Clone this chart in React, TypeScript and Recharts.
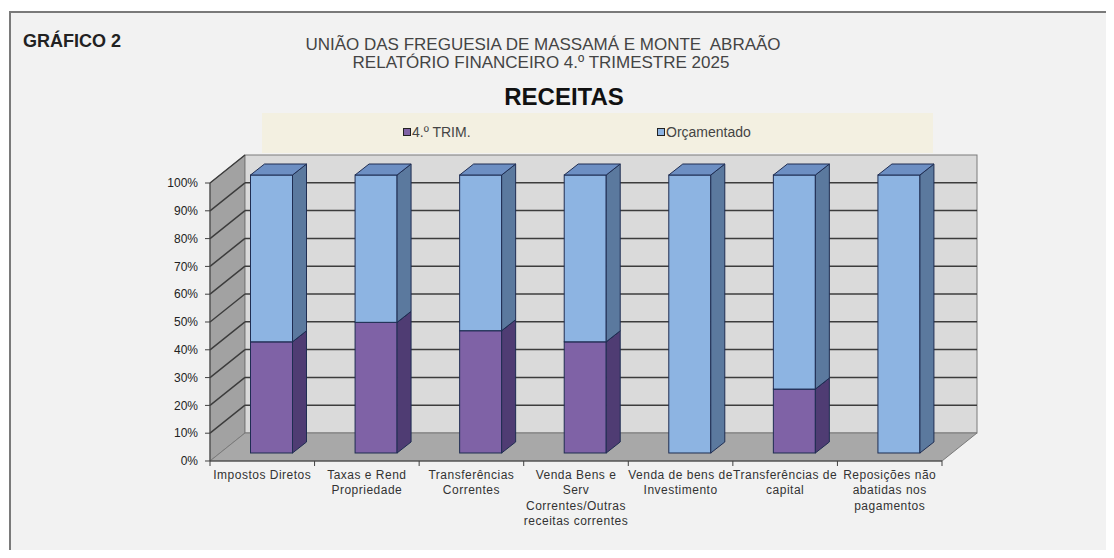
import { BarChart, Bar, XAxis, YAxis, ReferenceArea } from "recharts";

const categories = [
  "Impostos Diretos",
  "Taxas e Rend\nPropriedade",
  "Transferências\nCorrentes",
  "Venda Bens e\nServ\nCorrentes/Outras\nreceitas correntes",
  "Venda de bens de\nInvestimento",
  "Transferências de\ncapital",
  "Reposições não\nabatidas nos\npagamentos",
];
const trim4 = [40, 47, 44, 40, 0, 23, 0];
const orcamentado = [60, 53, 56, 60, 100, 77, 100];
const yTicks = [0, 10, 20, 30, 40, 50, 60, 70, 80, 90, 100];

const data = categories.map((name, i) => ({ name, trim: trim4[i], orc: orcamentado[i] }));

// depth of the 3D walls and of the bars
const WX = 35;
const WY = 28;
const BX = 9.5;
const BY = 8;
const DX = 14;
const DY = 11;

const FONT = '"Liberation Sans", Arial, sans-serif';

function Walls(props: any) {
  const { x, y, width: w, height: h } = props;
  if (x == null) return null;
  const bx = x + WX;
  const by = y - WY;
  const grid = "#3c3c3c";
  return (
    <g>
      <polygon points={`${x},${y} ${bx},${by} ${bx},${by + h} ${x},${y + h}`} fill="#a2a2a2" stroke="#7a7a7a" />
      <rect x={bx} y={by} width={w} height={h} fill="#dadada" stroke="#7a7a7a" />
      <polygon
        points={`${x},${y + h} ${bx},${by + h} ${bx + w},${by + h} ${x + w},${y + h}`}
        fill="#a8a8a8"
        stroke="#7a7a7a"
      />
      {yTicks.slice(1).map((v) => {
        const yy = y + h * (1 - v / 100);
        return (
          <g key={v}>
            <line x1={x} y1={yy} x2={bx} y2={yy - WY} stroke={grid} strokeWidth={1.5} />
            {v < 100 && <line x1={bx} y1={yy - WY} x2={bx + w} y2={yy - WY} stroke={grid} strokeWidth={1.5} />}
          </g>
        );
      })}
      {categories.concat([""]).map((_, j) => {
        const xx = x + (w * j) / categories.length;
        return <line key={j} x1={xx} y1={y + h} x2={xx} y2={y + h + 5} stroke="#404040" />;
      })}
    </g>
  );
}

function makeBar3D(front: string, side: string, top: string) {
  return (props: any) => {
    const { x, y, width: w, height: h } = props;
    if (!h || h <= 0) return <g />;
    const ox = x + BX;
    const oy = y - BY;
    const stroke = "#1f2d52";
    return (
      <g>
        <rect x={ox} y={oy} width={w} height={h} fill={front} stroke={stroke} />
        <polygon
          points={`${ox + w},${oy} ${ox + w + DX},${oy - DY} ${ox + w + DX},${oy + h - DY} ${ox + w},${oy + h}`}
          fill={side}
          stroke={stroke}
        />
        <polygon
          points={`${ox},${oy} ${ox + DX},${oy - DY} ${ox + w + DX},${oy - DY} ${ox + w},${oy}`}
          fill={top}
          stroke={stroke}
        />
      </g>
    );
  };
}

const PurpleBar = makeBar3D("#7f62a6", "#4f3c73", "#6a5191");
const BlueBar = makeBar3D("#8db4e2", "#5b799e", "#6d8fc3");

function CategoryTick(props: any) {
  const { x, y, payload } = props;
  const lines = String(payload.value).split("\n");
  return (
    <text x={x} y={y} textAnchor="middle" fontSize={12} letterSpacing={0.5} fill="#333" fontFamily={FONT}>
      {lines.map((l, i) => (
        <tspan key={i} x={x} dy={i === 0 ? 18 : 15.5}>
          {l}
        </tspan>
      ))}
    </text>
  );
}

export default function App() {
  return (
    <div style={{ position: "relative", width: 1114, height: 558, margin: -8, background: "#fff", fontFamily: FONT, overflow: "hidden" }}>
      <div
        style={{
          position: "absolute",
          left: 9,
          top: 11,
          right: 0,
          bottom: 0,
          background: "#f2f2f2",
          borderTop: "2px solid #7a7a7a",
          borderLeft: "2px solid #7a7a7a",
        }}
      />
      <div style={{ position: "absolute", left: 23, top: 31, fontSize: 18, fontWeight: "bold", lineHeight: "20px", color: "#222" }}>
        GRÁFICO 2
      </div>
      <div style={{ position: "absolute", left: 0, width: 1086, top: 36, textAlign: "center", fontSize: 17, lineHeight: "18px", color: "#444", whiteSpace: "pre" }}>
        UNIÃO DAS FREGUESIA DE MASSAMÁ E MONTE  ABRAÃO
      </div>
      <div style={{ position: "absolute", left: 0, width: 1082, top: 54, textAlign: "center", fontSize: 17, lineHeight: "18px", color: "#444" }}>
        RELATÓRIO FINANCEIRO 4.º TRIMESTRE 2025
      </div>
      <div style={{ position: "absolute", left: 0, width: 1128, top: 85, textAlign: "center", fontSize: 24, fontWeight: "bold", lineHeight: "24px", color: "#111" }}>
        RECEITAS
      </div>
      <div style={{ position: "absolute", left: 262, top: 113, width: 671, height: 40, background: "#f3f0e1" }} />
      {[
        { label: "4.º TRIM.", color: "#7f62a6", left: 403 },
        { label: "Orçamentado", color: "#8db4e2", left: 657 },
      ].map((it) => (
        <div key={it.label} style={{ position: "absolute", left: it.left, top: 124, height: 16, display: "flex", alignItems: "center", fontSize: 14, color: "#444" }}>
          <span style={{ display: "inline-block", width: 6, height: 6, background: it.color, border: "1px solid #222", marginRight: 1 }} />
          {it.label}
        </div>
      ))}
      <div style={{ position: "absolute", left: 0, top: 0 }}>
        <BarChart width={1114} height={558} data={data} margin={{ top: 183, left: 150, right: 172, bottom: 97 }} barSize={42}>
          <ReferenceArea y1={0} y2={100} shape={Walls} zIndex={-10} />
          <XAxis
            dataKey="name"
            interval={0}
            tickLine={false}
            tickSize={0}
            tickMargin={0}
            height={0.01}
            axisLine={{ stroke: "#404040" }}
            tick={<CategoryTick />}
          />
          <YAxis
            type="number"
            domain={[0, 100]}
            ticks={yTicks}
            interval={0}
            width={60}
            tickSize={5}
            tickMargin={7}
            tickFormatter={(v) => `${v}%`}
            tick={{ fontSize: 12, fill: "#222", fontFamily: FONT }}
            tickLine={{ stroke: "#404040" }}
            axisLine={{ stroke: "#404040" }}
          />
          <Bar dataKey="trim" stackId="a" name="4.º TRIM." shape={PurpleBar} isAnimationActive={false} />
          <Bar dataKey="orc" stackId="a" name="Orçamentado" shape={BlueBar} isAnimationActive={false} />
        </BarChart>
      </div>
    </div>
  );
}
